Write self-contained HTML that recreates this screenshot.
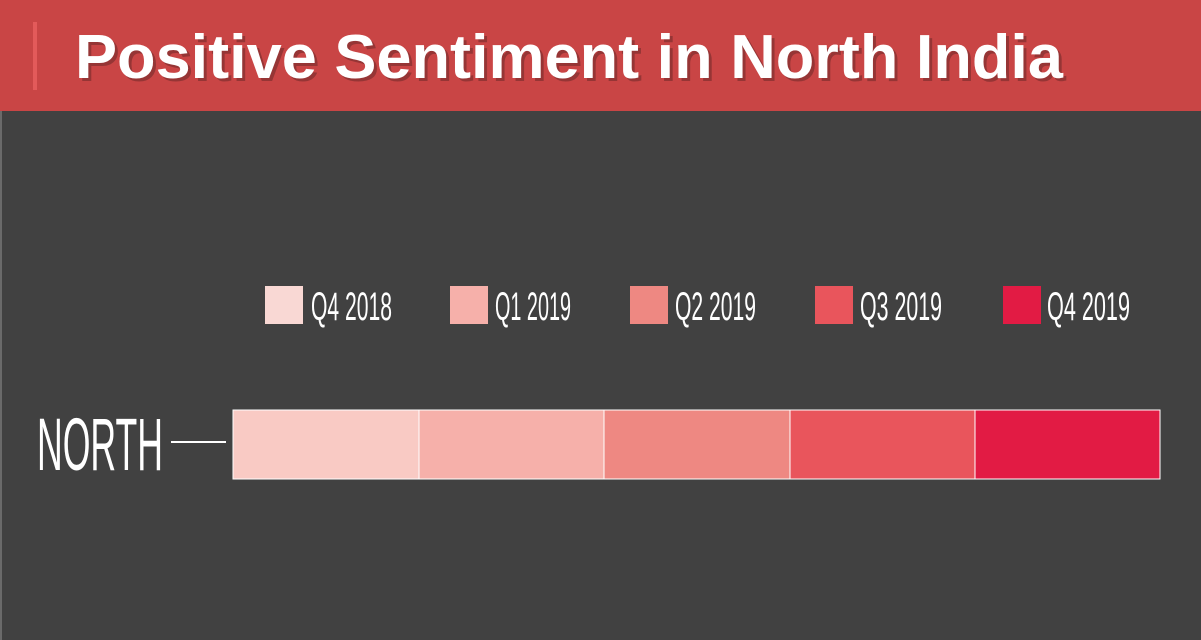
<!DOCTYPE html>
<html><head><style>
body{margin:0;background:#414141;}
svg{display:block}
</style></head><body>
<svg width="1201" height="640" xmlns="http://www.w3.org/2000/svg">
<rect width="1201" height="640" fill="#414141"/>
<rect x="0" y="0" width="2" height="640" fill="#6a6a6a"/>
<rect x="0" y="0" width="1201" height="111" fill="#c94545"/>
<rect x="33" y="22" width="4" height="68" fill="#e35a5a"/>
<text x="78" y="81" fill="#3a1a1a" opacity="0.35" font-family="Liberation Sans, sans-serif" font-weight="bold" font-size="62" textLength="988" lengthAdjust="spacingAndGlyphs">Positive Sentiment in North India</text>
<text x="75" y="78" fill="#ffffff" font-family="Liberation Sans, sans-serif" font-weight="bold" font-size="62" textLength="988" lengthAdjust="spacingAndGlyphs">Positive Sentiment in North India</text>
<g font-family="Liberation Sans Narrow, Liberation Sans, sans-serif" font-size="40" fill="#ffffff">
<rect x="265" y="286" width="38" height="38" fill="#f9d8d4"/>
<text x="311" y="320" textLength="81" lengthAdjust="spacingAndGlyphs">Q4 2018</text>
<rect x="450" y="286" width="38" height="38" fill="#f6b0aa"/>
<text x="495" y="320" textLength="76" lengthAdjust="spacingAndGlyphs">Q1 2019</text>
<rect x="630" y="286" width="38" height="38" fill="#ee8882"/>
<text x="675" y="320" textLength="81" lengthAdjust="spacingAndGlyphs">Q2 2019</text>
<rect x="815" y="286" width="38" height="38" fill="#e9555c"/>
<text x="860" y="320" textLength="82" lengthAdjust="spacingAndGlyphs">Q3 2019</text>
<rect x="1003" y="286" width="38" height="38" fill="#e21b44"/>
<text x="1047" y="320" textLength="83" lengthAdjust="spacingAndGlyphs">Q4 2019</text>
</g>
<text x="37" y="470" fill="#ffffff" font-family="Liberation Sans Narrow, Liberation Sans, sans-serif" font-size="74" textLength="126" lengthAdjust="spacingAndGlyphs">NORTH</text>
<rect x="171" y="441" width="55" height="2" fill="#ffffff"/>
<rect x="232.5" y="409.5" width="928" height="70" fill="#ffffff"/>
<rect x="233.5" y="410.5" width="185" height="68" fill="#f9cac4"/>
<rect x="419.5" y="410.5" width="184" height="68" fill="#f6b0aa"/>
<rect x="604.5" y="410.5" width="185" height="68" fill="#ee8882"/>
<rect x="790.5" y="410.5" width="184" height="68" fill="#e9555c"/>
<rect x="975.5" y="410.5" width="184" height="68" fill="#e21b44"/>
</svg>
</body></html>
